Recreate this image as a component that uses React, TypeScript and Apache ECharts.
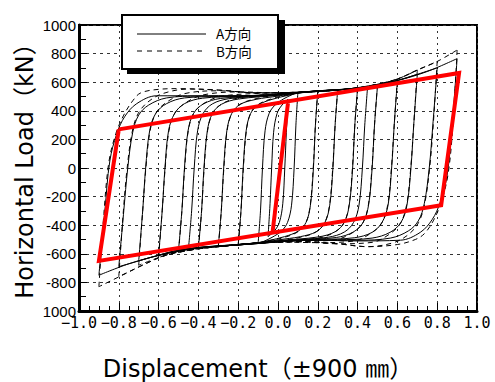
import React, { useEffect, useRef } from "react";
import * as echarts from "echarts";

// Displacement ratio (±900 mm = ±1.0) vs horizontal load (kN)
const xTicks = [-1.0, -0.8, -0.6, -0.4, -0.2, 0.0, 0.2, 0.4, 0.6, 0.8, 1.0];
const yTicks = [-1000, -800, -600, -400, -200, 0, 200, 400, 600, 800, 1000];
const legendNames = ["A方向", "B方向"];

// A direction loops (solid): loading branch from negative peak, then unloading branch back
const loopA090 = [[-0.9,-750],[-0.87,-300],[-0.845,50],[-0.81,240],[-0.77,360],[-0.71,450],[-0.61,505],[-0.4,505],[-0.2,505],[0,515],[0.2,540],[0.4,557],[0.6,612],[0.75,675],[0.9,765],
  [0.875,300],[0.85,-50],[0.815,-240],[0.775,-360],[0.715,-450],[0.615,-505],[0.4,-510],[0.2,-505],[0,-515],[-0.2,-535],[-0.4,-560],[-0.6,-612],[-0.75,-670],[-0.9,-750]];
const loopA080 = [[-0.8,-690],[-0.775,-300],[-0.755,0],[-0.73,250],[-0.7,370],[-0.65,440],[-0.56,490],[-0.4,503],[-0.2,505],[0,515],[0.2,540],[0.4,557],[0.6,612],[0.7,655],[0.8,700],
  [0.778,300],[0.76,0],[0.735,-250],[0.705,-370],[0.655,-440],[0.565,-490],[0.4,-505],[0.2,-505],[0,-515],[-0.2,-535],[-0.4,-557],[-0.6,-610],[-0.7,-650],[-0.8,-690]];
const loopA070 = [[-0.7,-650],[-0.68,-300],[-0.665,0],[-0.645,260],[-0.615,380],[-0.56,450],[-0.47,490],[-0.3,500],[-0.1,508],[0.1,530],[0.3,548],[0.5,575],[0.6,612],[0.7,655],
  [0.682,300],[0.668,0],[0.648,-260],[0.618,-380],[0.563,-450],[0.473,-490],[0.3,-502],[0.1,-508],[-0.1,-528],[-0.3,-548],[-0.5,-575],[-0.6,-610],[-0.7,-650]];
const loopA060 = [[-0.6,-610],[-0.582,-300],[-0.568,0],[-0.55,260],[-0.52,380],[-0.47,450],[-0.38,488],[-0.2,500],[0,512],[0.2,538],[0.4,556],[0.5,574],[0.6,612],
  [0.584,300],[0.571,0],[0.553,-260],[0.523,-380],[0.473,-450],[0.383,-488],[0.2,-500],[0,-512],[-0.2,-535],[-0.4,-556],[-0.5,-574],[-0.6,-610]];
const loopA050 = [[-0.5,-574],[-0.483,-300],[-0.47,0],[-0.452,260],[-0.425,380],[-0.375,448],[-0.29,486],[-0.1,503],[0.1,528],[0.3,547],[0.4,556],[0.5,575],
  [0.485,300],[0.473,0],[0.455,-260],[0.428,-380],[0.378,-448],[0.293,-486],[0.1,-503],[-0.1,-528],[-0.3,-547],[-0.4,-556],[-0.5,-574]];
const loopA045 = [[-0.45,-565],[-0.434,-300],[-0.421,0],[-0.404,260],[-0.377,380],[-0.33,448],[-0.25,484],[-0.1,502],[0.1,528],[0.3,547],[0.45,566],
  [0.436,300],[0.424,0],[0.407,-260],[0.38,-380],[0.333,-448],[0.253,-484],[0.1,-502],[-0.1,-528],[-0.3,-547],[-0.45,-565]];
const loopA040 = [[-0.4,-556],[-0.384,-300],[-0.372,0],[-0.355,260],[-0.33,380],[-0.285,445],[-0.2,482],[0,508],[0.2,538],[0.3,547],[0.4,557],
  [0.386,300],[0.375,0],[0.358,-260],[0.333,-380],[0.288,-445],[0.203,-482],[0,-508],[-0.2,-538],[-0.3,-547],[-0.4,-556]];
const loopA030 = [[-0.3,-547],[-0.285,-300],[-0.273,0],[-0.257,260],[-0.233,380],[-0.19,445],[-0.11,480],[0,503],[0.1,526],[0.2,538],[0.3,548],
  [0.287,300],[0.276,0],[0.26,-260],[0.236,-380],[0.193,-445],[0.113,-480],[0,-503],[-0.1,-526],[-0.2,-538],[-0.3,-547]];
const loopA020 = [[-0.2,-538],[-0.186,-300],[-0.175,0],[-0.16,260],[-0.138,380],[-0.1,440],[-0.03,480],[0.05,508],[0.12,528],[0.2,540],
  [0.188,300],[0.178,0],[0.163,-260],[0.141,-380],[0.103,-440],[0.033,-480],[-0.05,-508],[-0.12,-528],[-0.2,-538]];
const loopA010 = [[-0.1,-528],[-0.088,-300],[-0.078,0],[-0.065,260],[-0.045,380],[-0.015,440],[0.03,485],[0.07,512],[0.1,530],
  [0.09,300],[0.081,0],[0.068,-260],[0.048,-380],[0.018,-440],[-0.03,-485],[-0.07,-512],[-0.1,-528]];
const loopA005 = [[-0.05,-480],[-0.04,-250],[-0.032,0],[-0.022,250],[-0.005,380],[0.02,440],[0.05,480],
  [0.042,250],[0.034,0],[0.024,-250],[0.007,-380],[-0.018,-440],[-0.05,-480]];

// B direction loops (dashed)
const loopB090 = [[-0.9,-830],[-0.875,-320],[-0.85,40],[-0.815,240],[-0.775,370],[-0.73,470],[-0.69,525],[-0.6,550],[-0.5,555],[-0.3,545],[-0.1,525],[0.1,530],[0.3,545],[0.5,585],[0.6,622],[0.7,685],[0.8,745],[0.9,825],
  [0.88,320],[0.855,-40],[0.82,-240],[0.78,-370],[0.735,-460],[0.69,-500],[0.6,-535],[0.45,-550],[0.3,-530],[0.1,-515],[-0.1,-525],[-0.3,-550],[-0.44,-573],[-0.56,-608],[-0.66,-666],[-0.78,-748],[-0.9,-830]];
const loopB080 = [[-0.8,-760],[-0.777,-300],[-0.758,0],[-0.733,250],[-0.703,380],[-0.655,460],[-0.58,520],[-0.45,552],[-0.3,545],[-0.1,525],[0.1,530],[0.3,545],[0.5,585],[0.6,622],[0.7,685],[0.8,745],
  [0.78,300],[0.762,0],[0.737,-250],[0.707,-380],[0.66,-460],[0.585,-520],[0.45,-550],[0.3,-530],[0.1,-515],[-0.1,-525],[-0.3,-550],[-0.44,-573],[-0.56,-608],[-0.66,-666],[-0.8,-760]];
const loopB070 = [[-0.7,-680],[-0.68,-300],[-0.664,0],[-0.643,260],[-0.613,385],[-0.56,460],[-0.47,520],[-0.3,540],[-0.1,525],[0.1,530],[0.3,545],[0.5,585],[0.6,622],[0.7,685],
  [0.682,300],[0.667,0],[0.646,-260],[0.616,-385],[0.563,-460],[0.473,-520],[0.3,-530],[0.1,-515],[-0.1,-525],[-0.3,-550],[-0.44,-573],[-0.56,-608],[-0.7,-680]];
const loopB060 = [[-0.6,-625],[-0.582,-300],[-0.567,0],[-0.548,260],[-0.518,385],[-0.465,455],[-0.38,510],[-0.2,532],[0,525],[0.2,535],[0.4,560],[0.5,585],[0.6,622],
  [0.584,300],[0.57,0],[0.551,-260],[0.521,-385],[0.468,-455],[0.383,-510],[0.2,-522],[0,-518],[-0.2,-535],[-0.4,-565],[-0.5,-590],[-0.6,-625]];
const loopB050 = [[-0.5,-590],[-0.483,-300],[-0.469,0],[-0.451,260],[-0.423,385],[-0.372,452],[-0.29,500],[-0.1,522],[0.1,530],[0.3,545],[0.4,560],[0.5,585],
  [0.485,300],[0.472,0],[0.454,-260],[0.426,-385],[0.375,-452],[0.293,-500],[0.1,-515],[-0.1,-525],[-0.3,-550],[-0.4,-565],[-0.5,-590]];
const loopB040 = [[-0.4,-565],[-0.384,-300],[-0.371,0],[-0.354,260],[-0.328,385],[-0.28,450],[-0.2,490],[0,520],[0.2,535],[0.3,545],[0.4,560],
  [0.386,300],[0.374,0],[0.357,-260],[0.331,-385],[0.283,-450],[0.203,-490],[0,-515],[-0.2,-535],[-0.3,-550],[-0.4,-565]];
const loopB030 = [[-0.3,-550],[-0.285,-300],[-0.272,0],[-0.256,260],[-0.231,385],[-0.187,448],[-0.11,485],[0,512],[0.1,528],[0.2,535],[0.3,545],
  [0.287,300],[0.275,0],[0.259,-260],[0.234,-385],[0.19,-448],[0.113,-485],[0,-510],[-0.1,-525],[-0.2,-535],[-0.3,-550]];
const loopB020 = [[-0.2,-535],[-0.186,-300],[-0.174,0],[-0.159,260],[-0.137,385],[-0.098,445],[-0.03,485],[0.05,512],[0.12,528],[0.2,535],
  [0.188,300],[0.177,0],[0.162,-260],[0.14,-385],[0.101,-445],[0.033,-485],[-0.05,-510],[-0.12,-525],[-0.2,-535]];

// Red bilinear model
const redOuter = [[-0.8, 270], [0.91, 665], [0.82, -260], [-0.9, -650], [-0.8, 270]];
const redInner = [[0.05, 452], [-0.027, -445]];

const loopsA = [loopA090, loopA080, loopA070, loopA060, loopA050, loopA045, loopA040, loopA030, loopA020, loopA010, loopA005];
const loopsB = [loopB090, loopB080, loopB070, loopB060, loopB050, loopB040, loopB030, loopB020];

function splitLoop(loop: number[][]) {
  let k = 0;
  loop.forEach((p, i) => { if (p[0] > loop[k][0]) k = i; });
  return [loop.slice(0, k + 1), loop.slice(k)];
}

function branchSeries(loops: number[][][], dashed: boolean) {
  const out: any[] = [];
  loops.forEach((loop) => {
    splitLoop(loop).forEach((br) => {
      out.push({
        type: "line",
        data: br,
        symbol: "none",
        showSymbol: false,
        smooth: 0.35,
        silent: true,
        z: 2,
        lineStyle: { color: "#000", width: 1, type: dashed ? [5, 4] : "solid" },
      });
    });
  });
  return out;
}

export default function App() {
  const ref = useRef<HTMLDivElement>(null);
  useEffect(() => {
    if (!ref.current) return;
    const chart = echarts.init(ref.current, null, { renderer: "svg" });
    const fmtX = (v: number) => {
      const s = Math.abs(v).toFixed(1);
      return v < -1e-9 ? "\u2212" + s : s;
    };
    chart.setOption({
      animation: false,
      backgroundColor: "#fff",
      grid: { left: 79, right: 18, top: 25, bottom: 71, show: true, borderColor: "#000", borderWidth: 2 },
      xAxis: {
        type: "value",
        min: xTicks[0],
        max: xTicks[xTicks.length - 1],
        interval: 0.2,
        axisLine: { onZero: false, lineStyle: { color: "#000", width: 3 } },
        axisTick: { inside: true, length: 8, lineStyle: { color: "#000", width: 1 } },
        minorTick: { show: true, splitNumber: 4, length: 5, lineStyle: { color: "#000", width: 1 } },
        splitLine: { show: true, lineStyle: { color: "#333", width: 1, type: [2, 4] } },
        axisLabel: { formatter: fmtX, fontFamily: "DejaVu Sans Mono", fontSize: 15, color: "#000", margin: 5, lineHeight: 13 },
      },
      yAxis: {
        type: "value",
        min: yTicks[0],
        max: yTicks[yTicks.length - 1],
        interval: 200,
        axisLine: { onZero: false, lineStyle: { color: "#000", width: 3 } },
        axisTick: { inside: true, length: 8, lineStyle: { color: "#000", width: 1 } },
        minorTick: { show: true, splitNumber: 2, length: 7, lineStyle: { color: "#000", width: 1 } },
        splitLine: { show: true, lineStyle: { color: "#333", width: 1, type: [3, 4] } },
        axisLabel: {
          formatter: (v: number) => (Math.abs(v) === 1000 ? "1000" : String(v)),
          fontFamily: "Liberation Sans",
          fontSize: 15,
          lineHeight: 10,
          color: "#000",
          margin: 3,
        },
      },
      series: [
        ...branchSeries(loopsA, false),
        ...branchSeries(loopsB, true),
        { type: "line", data: redOuter, symbol: "none", silent: true, z: 5, lineStyle: { color: "#ff0000", width: 4, join: "miter" } },
        { type: "line", data: redInner, symbol: "none", silent: true, z: 5, lineStyle: { color: "#ff0000", width: 4 } },
      ],
      graphic: [
        { type: "rect", z: 100, shape: { x: 127, y: 20, width: 158, height: 54 }, style: { fill: "#000" } },
        { type: "rect", z: 101, shape: { x: 122, y: 15, width: 156, height: 54 }, style: { fill: "#fff", stroke: "#000", lineWidth: 2 } },
        { type: "line", z: 102, shape: { x1: 137, y1: 34, x2: 206, y2: 34 }, style: { stroke: "#000", lineWidth: 1 } },
        { type: "line", z: 102, shape: { x1: 137, y1: 51, x2: 206, y2: 51 }, style: { stroke: "#000", lineWidth: 1, lineDash: [5, 5] } },
        { type: "text", z: 102, x: 216, y: 33, style: { text: legendNames[0], font: '13.5px "Noto Sans CJK JP"', lineHeight: 16, fill: "#000", verticalAlign: "middle", align: "left" } },
        { type: "text", z: 102, x: 216, y: 51, style: { text: legendNames[1], font: '13.5px "Noto Sans CJK JP"', lineHeight: 16, fill: "#000", verticalAlign: "middle", align: "left" } },
        {
          type: "text", z: 102, x: 25, y: 165, rotation: Math.PI / 2,
          style: { text: "Horizontal Load（kN）", font: '24px "DejaVu Sans", "Noto Sans CJK JP"', fill: "#000", align: "center", verticalAlign: "middle" },
        },
        {
          type: "text", z: 102, x: 258, y: 369,
          style: { text: "Displacement（±900 ㎜）", font: '24px "DejaVu Sans", "Noto Sans CJK JP"', fill: "#000", align: "center", verticalAlign: "middle" },
        },
      ],
    });
    return () => chart.dispose();
  }, []);
  return <div ref={ref} style={{ position: "fixed", left: 0, top: 0, width: 495, height: 382 }} />;
}
